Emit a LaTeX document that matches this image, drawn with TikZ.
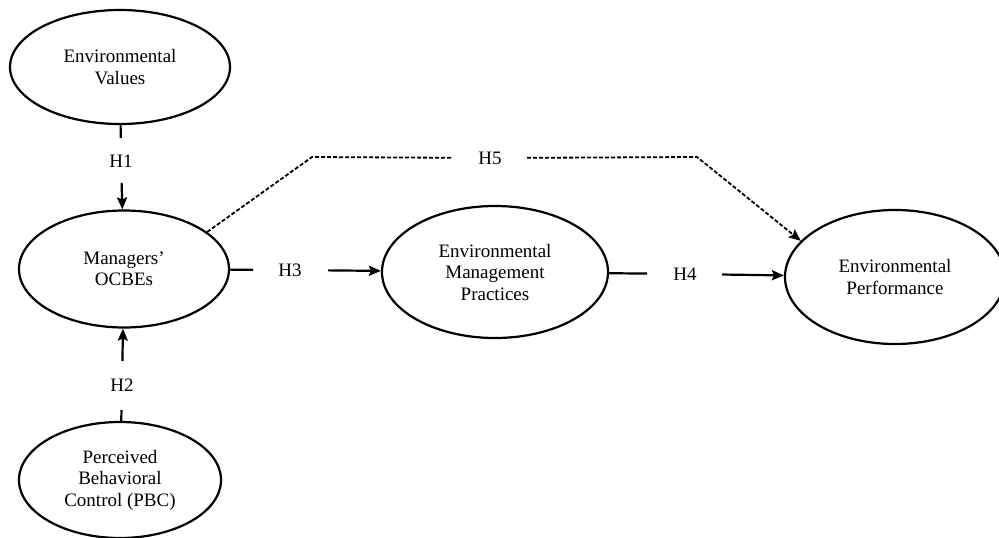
\documentclass[tikz,border=0pt]{standalone}
\usepackage{fontspec}
\setmainfont{Liberation Serif}
\usetikzlibrary{shapes.geometric, arrows.meta, positioning, calc}

\begin{document}
\begin{tikzpicture}[x=1pt, y=-1pt, >={Stealth[length=12pt, width=10pt, inset=2pt]}, line width=2.2pt,
    construct/.style={draw, ellipse, align=center, inner sep=0pt,
      font=\fontsize{19}{21.5}\selectfont},
    hyp/.style={font=\fontsize{19}{21}\selectfont, inner sep=0pt}]
    \useasboundingbox (0,0) rectangle (999,538);

    % Draw the constructs
    \node[construct, minimum width=220pt, minimum height=114pt] (ev) at (120,67) {Environmental\\Values};
    \node[construct, minimum width=210pt, minimum height=117pt] (ocbe) at (124,269) {Managers'\\OCBEs};
    \node[construct, minimum width=202pt, minimum height=116pt] (pbc) at (120,480) {Perceived\\Behavioral\\Control (PBC)};
    \node[construct, minimum width=226pt, minimum height=132pt] (emp) at (495,272) {Environmental\\Management\\Practices};
    \node[construct, minimum width=220pt, minimum height=134pt] (ep) at (895,277) {Environmental\\Performance};

    % Hypothesis labels
    \node[hyp] (h1) at (121,161) {H1};
    \node[hyp] (h2) at (122,385) {H2};
    \node[hyp] (h3) at (290,270) {H3};
    \node[hyp] (h4) at (685,274) {H4};
    \node[hyp] (h5) at (490,158) {H5};
    \coordinate (bendL) at (312,157);
    \coordinate (bendR) at (697,157);

    % Draw the paths
    \draw[shorten >=23pt] (ev) -- (h1.center);
    \draw[->, shorten <=22pt] (h1.center) -- (ocbe);
    \draw[shorten >=25pt] (pbc) -- (h2.center);
    \draw[->, shorten <=24pt] (h2.center) -- (ocbe);
    \draw[shorten >=37pt] (ocbe) -- (h3.center);
    \draw[->, shorten <=38pt] (h3.center) -- (emp);
    \draw[shorten >=38pt] (emp) -- (h4.center);
    \draw[->, shorten <=37pt] (h4.center) -- (ep);

    % Draw the dashed path
    \draw[dash pattern=on 4pt off 2pt, line width=1.8pt, shorten >=38pt] (ocbe.24) -- (bendL) -- (h5.center);
    \draw[->, dash pattern=on 4pt off 2pt, line width=1.8pt, shorten <=37pt] (h5.center) -- (bendR) -- (ep.159);
\end{tikzpicture}
\end{document}
